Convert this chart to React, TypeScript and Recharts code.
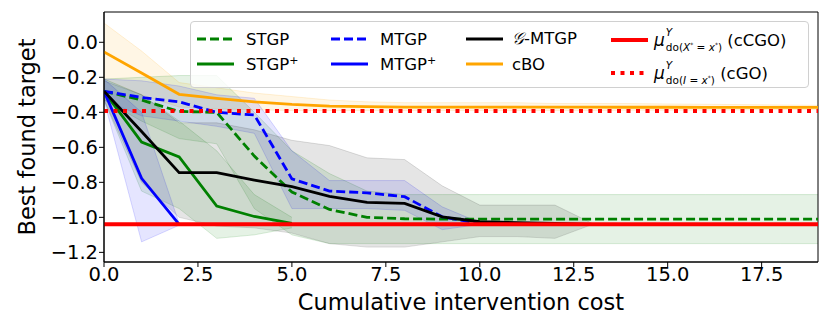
import React from 'react';
import { ComposedChart, Line, Area, XAxis, YAxis, ReferenceArea, Legend, Label } from 'recharts';

const cost = [0, 1, 2, 3, 4, 5, 6, 7, 8, 9, 10, 11, 12, 13, 14, 15, 16, 17, 18, 19];
const xTicks = [0, 2.5, 5, 7.5, 10, 12.5, 15, 17.5];
const yTicks = [0, -0.2, -0.4, -0.6, -0.8, -1.0, -1.2];
const xDomain = [0, 19];
const yDomain = [-1.255, 0.173];

const stgpMean = [-0.28, -0.33, -0.395, -0.4, -0.65, -0.855, -0.955, -1.0, -1.008, -1.01, -1.01, -1.01, -1.01, -1.01, -1.01, -1.01, -1.01, -1.01, -1.01, -1.01];
const stgpLo = [-0.33, -0.45, -0.55, -0.58, -0.95, -1.1, -1.15, -1.15, -1.15, -1.15, -1.15, -1.15, -1.15, -1.15, -1.15, -1.15, -1.15, -1.15, -1.15, -1.15];
const stgpHi = [-0.21, -0.2, -0.19, -0.19, -0.4, -0.62, -0.75, -0.85, -0.87, -0.87, -0.87, -0.87, -0.87, -0.87, -0.87, -0.87, -0.87, -0.87, -0.87, -0.87];

const stgpPlusMean = [-0.28, -0.57, -0.655, -0.935, -0.995, -1.035];
const stgpPlusLo = [-0.33, -0.85, -0.95, -1.12, -1.1, -1.06];
const stgpPlusHi = [-0.21, -0.3, -0.45, -0.62, -0.87, -1.0];

const mtgpMean = [-0.28, -0.315, -0.34, -0.4, -0.415, -0.78, -0.85, -0.86, -0.882, -0.997, -1.035];
const mtgpLo = [-0.33, -0.42, -0.45, -0.48, -0.52, -0.95, -0.95, -0.95, -0.96, -1.07, -1.04];
const mtgpHi = [-0.21, -0.22, -0.25, -0.3, -0.32, -0.62, -0.79, -0.79, -0.79, -0.94, -1.03];

const mtgpPlusMean = [-0.28, -0.777, -1.04];
const mtgpPlusLo = [-0.33, -1.14, -1.045];
const mtgpPlusHi = [-0.21, -0.4, -1.035];

const gmtgpMean = [-0.28, -0.51, -0.745, -0.745, -0.787, -0.825, -0.88, -0.914, -0.92, -0.997, -1.025, -1.03, -1.035, -1.04];
const gmtgpLo = [-0.33, -0.8, -1.0, -1.05, -1.06, -1.09, -1.15, -1.17, -1.17, -1.14, -1.11, -1.11, -1.12, -1.04];
const gmtgpHi = [-0.22, -0.3, -0.46, -0.46, -0.5, -0.56, -0.59, -0.66, -0.67, -0.82, -0.93, -0.93, -0.93, -1.035];

const cboMean = [-0.055, -0.175, -0.297, -0.32, -0.34, -0.355, -0.365, -0.368, -0.37, -0.37, -0.37, -0.37, -0.37, -0.37, -0.371, -0.371, -0.372, -0.372, -0.372, -0.372];
const cboLo = [-0.21, -0.3, -0.37, -0.38, -0.385, -0.39, -0.39, -0.39, -0.39, -0.39, -0.39, -0.39, -0.39, -0.39, -0.388, -0.388, -0.387, -0.386, -0.385, -0.385];
const cboHi = [0.11, -0.05, -0.23, -0.26, -0.29, -0.31, -0.33, -0.34, -0.345, -0.345, -0.345, -0.345, -0.35, -0.35, -0.35, -0.352, -0.354, -0.356, -0.358, -0.36];

const cCGO = -1.04;
const cGO = -0.393;

const toLine = (ys: number[]) => ys.map((y, i) => ({ x: cost[i], y }));
const toBand = (lo: number[], hi: number[]) => lo.map((l, i) => ({ x: cost[i], band: [l, hi[i]] }));
const flat = (v: number) => [{ x: xDomain[0], y: v }, { x: xDomain[1], y: v }];

const FONT = '"DejaVu Sans", sans-serif';
const GREEN = '#008000';
const BLUE = '#0000ff';
const ORANGE = '#ffa500';
const RED = '#ff0000';

const fmtTick = (v: number) => {
  const s = Math.abs(v).toFixed(1);
  return v < -1e-9 ? '\u2212' + s : s;
};

const Sample = ({ color, dash, width = 3 }: { color: string; dash?: string; width?: number }) => (
  <svg width={37} height={8} style={{ display: 'block' }}>
    <line x1={0} y1={4} x2={37} y2={4} stroke={color} strokeWidth={width} strokeDasharray={dash} />
  </svg>
);

const Mu = ({ sub }: { sub: React.ReactNode }) => (
  <span style={{ display: 'inline-flex', alignItems: 'center' }}>
    <span style={{ fontStyle: 'italic', fontSize: 17 }}>μ</span>
    <span style={{ display: 'inline-flex', flexDirection: 'column', fontSize: 10.5, lineHeight: '11px', marginLeft: 1 }}>
      <span style={{ fontStyle: 'italic' }}>Y</span>
      <span>{sub}</span>
    </span>
  </span>
);

const item = (left: number, top: number, sample: React.ReactNode, label: React.ReactNode, textGap = 12) => (
  <div style={{ position: 'absolute', left, top, display: 'flex', alignItems: 'center', height: 0 }}>
    {sample}
    <div style={{ marginLeft: textGap, whiteSpace: 'nowrap', fontSize: 16.5 }}>{label}</div>
  </div>
);

const CustomLegend = () => (
  <div style={{ position: 'relative', width: 619, height: 67, border: '1px solid #d0d0d0', borderRadius: 4, background: 'rgba(255,255,255,0.8)', boxSizing: 'border-box', fontFamily: FONT, color: '#000' }}>
    {item(6, 17, <Sample color={GREEN} dash="9 4" />, 'STGP')}
    {item(6, 42, <Sample color={GREEN} />, <span>STGP<sup style={{ fontSize: 11 }}>+</sup></span>)}
    {item(140, 17, <Sample color={BLUE} dash="9 4" />, 'MTGP')}
    {item(140, 42, <Sample color={BLUE} />, <span>MTGP<sup style={{ fontSize: 11 }}>+</sup></span>)}
    {item(275, 17, <Sample color="#000" />, <span><span style={{ fontStyle: 'italic', fontFamily: 'serif' }}>𝒢</span>-MTGP</span>, 9)}
    {item(275, 42, <Sample color={ORANGE} />, 'cBO', 9)}
    {item(420, 18, <Sample color={RED} width={4} />, <span><Mu sub={<span>do(<i>X</i><sup style={{ fontSize: 6 }}>*</sup> = <i>x</i><sup style={{ fontSize: 6 }}>*</sup>)</span>} /> (cCGO)</span>, 6)}
    {item(420, 51, <Sample color={RED} width={4} dash="4 5.5" />, <span><Mu sub={<span>do(<i>I</i> = <i>x</i><sup style={{ fontSize: 6 }}>*</sup>)</span>} /> (cGO)</span>, 6)}
  </div>
);

export default function App() {
  return (
    <div style={{ position: 'absolute', left: 0, top: 0, width: 830, height: 332, background: '#fff' }}>
      <ComposedChart width={830} height={332} margin={{ top: 12, right: 12, bottom: 0, left: 0 }}>
        <XAxis
          dataKey="x"
          type="number"
          domain={xDomain}
          ticks={xTicks}
          allowDataOverflow
          tickFormatter={(v: number) => v.toFixed(1)}
          height={70}
          tickSize={5}
          tickMargin={0}
          stroke="#000"
          tick={{ fill: '#000', fontSize: 19.5, fontFamily: FONT }}
        >
          <Label
            content={(props: any) => {
              const vb = props.viewBox;
              return (
                <text x={vb.x + vb.width / 2} y={vb.y + 40} textAnchor="middle" dominantBaseline="central" fontSize={22.5} fontFamily={FONT} fill="#000">
                  Cumulative intervention cost
                </text>
              );
            }}
          />
        </XAxis>
        <YAxis
          type="number"
          domain={yDomain}
          ticks={yTicks}
          allowDataOverflow
          tickFormatter={fmtTick}
          width={104}
          tickSize={5}
          tickMargin={1}
          stroke="#000"
          tick={{ fill: '#000', fontSize: 19.5, fontFamily: FONT }}
        >
          <Label
            content={(props: any) => {
              const vb = props.viewBox;
              const cx = vb.x + 27;
              const cy = vb.y + vb.height / 2;
              return (
                <text x={cx} y={cy} transform={`rotate(-90 ${cx} ${cy})`} textAnchor="middle" dominantBaseline="central" fontSize={22.5} fontFamily={FONT} fill="#000">
                  Best found target
                </text>
              );
            }}
          />
        </YAxis>

        <Area data={toBand(cboLo, cboHi)} dataKey="band" type="linear" stroke={ORANGE} strokeOpacity={0.15} fill={ORANGE} fillOpacity={0.1} isAnimationActive={false} />
        <Area data={toBand(stgpLo, stgpHi)} dataKey="band" type="linear" stroke={GREEN} strokeOpacity={0.15} fill={GREEN} fillOpacity={0.1} isAnimationActive={false} />
        <Area data={toBand(stgpPlusLo, stgpPlusHi)} dataKey="band" type="linear" stroke={GREEN} strokeOpacity={0.15} fill={GREEN} fillOpacity={0.1} isAnimationActive={false} />
        <Area data={toBand(mtgpLo, mtgpHi)} dataKey="band" type="linear" stroke={BLUE} strokeOpacity={0.15} fill={BLUE} fillOpacity={0.1} isAnimationActive={false} />
        <Area data={toBand(mtgpPlusLo, mtgpPlusHi)} dataKey="band" type="linear" stroke={BLUE} strokeOpacity={0.15} fill={BLUE} fillOpacity={0.1} isAnimationActive={false} />
        <Area data={toBand(gmtgpLo, gmtgpHi)} dataKey="band" type="linear" stroke="#000" strokeOpacity={0.12} fill="#000" fillOpacity={0.1} isAnimationActive={false} />

        <Line data={toLine(stgpMean)} dataKey="y" type="linear" dot={false} stroke={GREEN} strokeWidth={2.8} strokeDasharray="9 4" isAnimationActive={false} />
        <Line data={toLine(stgpPlusMean)} dataKey="y" type="linear" dot={false} stroke={GREEN} strokeWidth={2.8} isAnimationActive={false} />
        <Line data={toLine(mtgpMean)} dataKey="y" type="linear" dot={false} stroke={BLUE} strokeWidth={2.8} strokeDasharray="9 4" isAnimationActive={false} />
        <Line data={toLine(mtgpPlusMean)} dataKey="y" type="linear" dot={false} stroke={BLUE} strokeWidth={2.8} isAnimationActive={false} />
        <Line data={toLine(gmtgpMean)} dataKey="y" type="linear" dot={false} stroke="#000" strokeWidth={2.8} isAnimationActive={false} />
        <Line data={toLine(cboMean)} dataKey="y" type="linear" dot={false} stroke={ORANGE} strokeWidth={2.8} isAnimationActive={false} />
        <Line data={flat(cCGO)} dataKey="y" type="linear" dot={false} stroke={RED} strokeWidth={4} isAnimationActive={false} />
        <Line data={flat(cGO)} dataKey="y" type="linear" dot={false} stroke={RED} strokeWidth={4} strokeDasharray="4 5.5" isAnimationActive={false} />

        <ReferenceArea x1={xDomain[0]} x2={xDomain[1]} y1={yDomain[0]} y2={yDomain[1]} fill="none" stroke="#000" strokeWidth={1} ifOverflow="visible" />

        <Legend
          layout="horizontal"
          verticalAlign="middle"
          align="center"
          content={() => <CustomLegend />}
          wrapperStyle={{ position: 'absolute', left: 190, top: 21, width: 619, height: 67 }}
        />
      </ComposedChart>
    </div>
  );
}
